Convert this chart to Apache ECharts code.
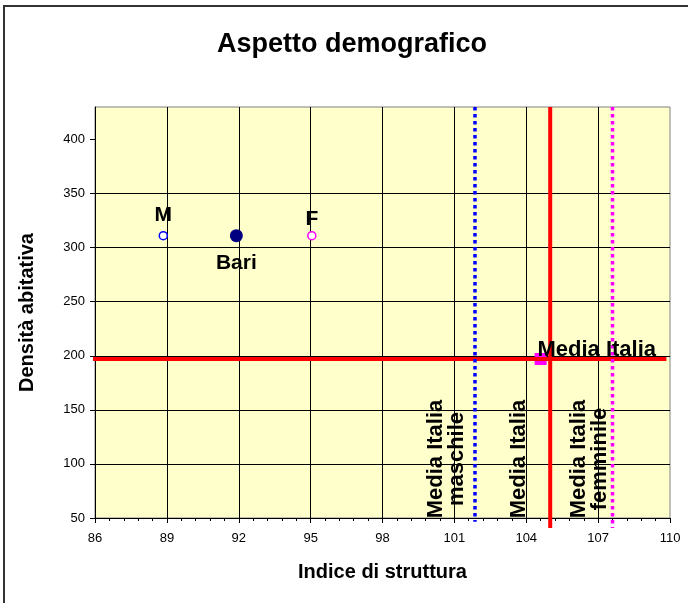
<!DOCTYPE html>
<html><head><meta charset="utf-8">
<script src="https://cdn.jsdelivr.net/npm/echarts@6/dist/echarts.min.js"></script>
<style>html,body{margin:0;padding:0;background:#fff}#c{width:688px;height:603px}</style>
</head><body><div id="c"></div>
<script>
// ---- data ----
const pointNames = ['M', 'Bari', 'F'];
const pointX = [88.85, 91.9, 95.05];
const pointY = [311, 311, 311];
const italiaPoint = [104.6, 197];
const mediaItaliaY = 197;
const mediaItaliaX = 105;
const mediaMaschileX = 101.86;
const mediaFemminileX = 107.6;
const hLineX = [85.55, 109.85];
const redVLineY = [430, 40.8];
const blueVLineY = [430, 46.6];
const magentaVLineY = [430, 40.8];
const xTicks = [86, 89, 92, 95, 98, 101, 104, 107, 110];
const yTicks = [50, 100, 150, 200, 250, 300, 350, 400];
const verticalLabels = ['Media Italia\nmaschile', 'Media Italia', 'Media Italia\nfemminile'];
const verticalLabelX = [mediaMaschileX, mediaItaliaX, mediaFemminileX];

const FF = '"Liberation Sans", Arial, sans-serif';
const chart = echarts.init(document.getElementById('c'));

const TXT = {fontFamily: FF, fontWeight: 'bold', color: '#000', opacity: 1, textBorderWidth: 0, textBorderColor: 'transparent', textShadowBlur: 0, textShadowColor: 'transparent'};

const pointStyles = [
  {symbol: 'circle', symbolSize: 8, itemStyle: {color: '#fff', borderColor: '#0000FF', borderWidth: 1.5, opacity: 1},
   label: {position: 'top', distance: 5}},
  {symbol: 'circle', symbolSize: 13, itemStyle: {color: '#000080', borderColor: '#000080', borderWidth: 0, opacity: 1},
   label: {position: 'bottom', distance: 10}},
  {symbol: 'circle', symbolSize: 8, itemStyle: {color: '#fff', borderColor: '#FF00FF', borderWidth: 1.5, opacity: 1},
   label: {position: 'top', distance: 1}}
];
const vOffsets = [[-29, -59], [-31.6, -59], [-23.3, -59]];

const option = {
  animation: false,
  backgroundColor: '#fff',
  graphic: [{type: 'rect', shape: {x: 4, y: 6, width: 800, height: 800},
    style: {fill: 'none', stroke: '#333', lineWidth: 2}, z: 100, silent: true}],
  title: {
    text: 'Aspetto demografico', left: 352, top: 31, padding: 0, textAlign: 'center',
    textStyle: {fontFamily: FF, fontSize: 27, fontWeight: 'bold', color: '#000'}
  },
  grid: {left: 95, right: 18, top: 107, bottom: 85, show: true,
    backgroundColor: '#FFFFCC', borderColor: '#808080', borderWidth: 1},
  xAxis: {
    type: 'value', min: xTicks[0], max: xTicks[xTicks.length - 1], interval: 3,
    name: 'Indice di struttura', nameLocation: 'middle', nameGap: 44,
    nameTextStyle: {fontFamily: FF, fontSize: 20, fontWeight: 'bold', color: '#000'},
    axisLine: {show: true, onZero: false, lineStyle: {color: '#000', width: 1}},
    axisTick: {show: true, inside: false, length: 5, lineStyle: {color: '#000'}},
    minorTick: {show: true, splitNumber: 5, length: 3, lineStyle: {color: '#000'}},
    axisLabel: {fontFamily: FF, fontSize: 13, color: '#000', margin: 14},
    splitLine: {show: true, showMaxLine: false, lineStyle: {color: '#000', width: 1}}
  },
  yAxis: {
    type: 'value', min: yTicks[0], max: 430, interval: 50,
    name: 'Densità abitativa', nameLocation: 'middle', nameGap: 58,
    nameTextStyle: {fontFamily: FF, fontSize: 20, fontWeight: 'bold', color: '#000'},
    axisLine: {show: true, onZero: false, lineStyle: {color: '#000', width: 1}},
    axisTick: {show: true, inside: false, length: 5, customValues: yTicks, lineStyle: {color: '#000'}},
    axisLabel: {fontFamily: FF, fontSize: 13, color: '#000', margin: 10, customValues: yTicks},
    splitLine: {show: true, showMaxLine: false, lineStyle: {color: '#000', width: 1}}
  },
  series: [
    {type: 'scatter', z: 2, symbol: 'rect', symbolSize: 12, itemStyle: {color: '#FF00FF', opacity: 1},
     data: [italiaPoint]},
    {type: 'line', z: 3, clip: false, symbol: 'none', lineStyle: {color: '#FF0000', width: 4, cap: 'butt'},
     data: hLineX.map(x => [x, mediaItaliaY])},
    {type: 'line', z: 3, clip: false, symbol: 'none', lineStyle: {color: '#FF0000', width: 4, cap: 'butt'},
     data: redVLineY.map(y => [mediaItaliaX, y])},
    {type: 'line', z: 4, clip: false, symbol: 'none', lineStyle: {color: '#0000FF', width: 3.5, type: [3.5, 3.5], cap: 'butt'},
     data: blueVLineY.map(y => [mediaMaschileX, y])},
    {type: 'line', z: 4, clip: false, symbol: 'none', lineStyle: {color: '#FF00FF', width: 3.5, type: [3.5, 3.5], cap: 'butt'},
     data: magentaVLineY.map(y => [mediaFemminileX, y])},
    {type: 'scatter', z: 6, itemStyle: {opacity: 1},
     data: pointNames.map((n, i) => Object.assign({name: n, value: [pointX[i], pointY[i]]}, pointStyles[i], {
       label: Object.assign({show: true, formatter: n, fontSize: 21}, TXT, pointStyles[i].label)
     }))},
    {type: 'scatter', z: 10, symbolSize: 0, silent: true, itemStyle: {opacity: 1},
     data: [{value: italiaPoint, label: Object.assign({show: true, formatter: 'Media Italia', position: [-3.2, -9.5],
              align: 'left', verticalAlign: 'middle', fontSize: 22}, TXT)}]
       .concat(verticalLabelX.map((x, i) => ({value: [x, yTicks[0]], label: Object.assign({show: true, formatter: verticalLabels[i],
          position: vOffsets[i], rotate: 90, align: 'center', verticalAlign: 'middle', lineHeight: 21,
          fontSize: 22}, TXT)})))}
  ]
};
chart.setOption(option);
</script></body></html>
